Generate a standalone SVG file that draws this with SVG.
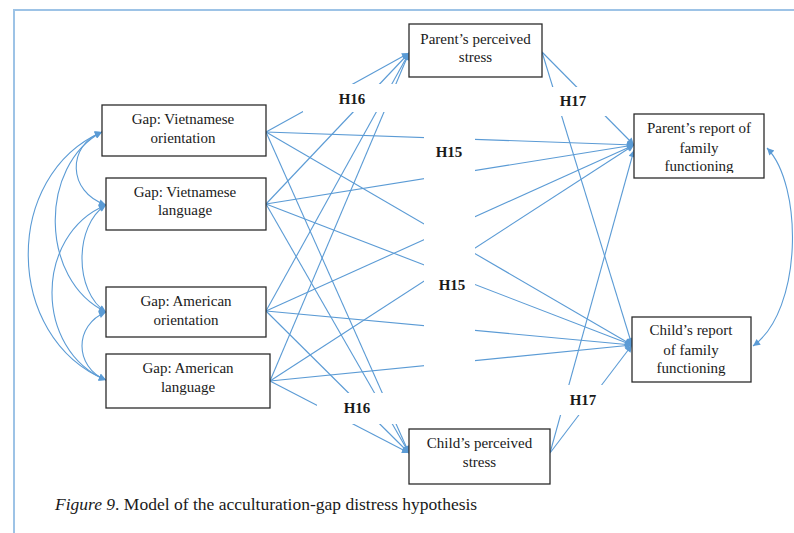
<svg xmlns="http://www.w3.org/2000/svg" width="794" height="533" viewBox="0 0 794 533">
  <style>
    .box { fill: #ffffff; stroke: #2b2b2b; stroke-width: 1.3; }
    .txt { font-family: "Liberation Serif", "Times New Roman", serif; font-size: 15px; fill: #1a1a1a; text-anchor: middle; }
    .lbl { font-family: "Liberation Serif", "Times New Roman", serif; font-size: 15px; font-weight: bold; fill: #1a1a1a; text-anchor: middle; }
    .path { fill: none; stroke: #5B9BD5; stroke-width: 1.1; marker-end: url(#arrow); }
    .cov { fill: none; stroke: #5B9BD5; stroke-width: 1.1; marker-start: url(#arrow); marker-end: url(#arrow); }
    .frame { stroke: #9DC3E6; stroke-width: 2; fill: none; }
    .gap { fill: #ffffff; stroke: none; }
    .cap { font-family: "Liberation Serif", "Times New Roman", serif; font-size: 17.5px; fill: #1a1a1a; }
  </style>
  <defs>
    <marker id="arrow" viewBox="0 0 10 10" refX="10" refY="5" markerWidth="9" markerHeight="7" markerUnits="userSpaceOnUse" orient="auto-start-reverse">
      <path d="M0,0 L10,5 L0,10 z" fill="#5B9BD5"/>
    </marker>
    <clipPath id="clipPR"><rect x="634" y="114" width="130" height="59"/></clipPath>
    <clipPath id="clipCR"><rect x="632" y="317" width="119" height="59"/></clipPath>
  </defs>

  <rect width="794" height="533" fill="#ffffff"/>

  <!-- page frame -->
  <path class="frame" d="M14,533 V10 H794"/>

  <!-- connectors -->
  <g id="connectors">
    <!-- gaps to parent's perceived stress -->
    <line class="path" x1="266" y1="132" x2="409" y2="53"/>
    <line class="path" x1="266" y1="204" x2="409" y2="53"/>
    <line class="path" x1="266" y1="311" x2="409" y2="53"/>
    <line class="path" x1="270" y1="381" x2="409" y2="53"/>
    <!-- gaps to child's perceived stress -->
    <line class="path" x1="266" y1="132" x2="409" y2="453"/>
    <line class="path" x1="266" y1="204" x2="409" y2="453"/>
    <line class="path" x1="266" y1="311" x2="409" y2="453"/>
    <line class="path" x1="270" y1="381" x2="409" y2="453"/>
    <!-- gaps to parent's report -->
    <line class="path" x1="266" y1="132" x2="634" y2="145"/>
    <line class="path" x1="266" y1="204" x2="634" y2="145"/>
    <line class="path" x1="266" y1="311" x2="634" y2="145"/>
    <line class="path" x1="270" y1="381" x2="634" y2="145"/>
    <!-- gaps to child's report -->
    <line class="path" x1="266" y1="132" x2="632" y2="345"/>
    <line class="path" x1="266" y1="204" x2="632" y2="345"/>
    <line class="path" x1="266" y1="311" x2="632" y2="345"/>
    <line class="path" x1="270" y1="381" x2="632" y2="345"/>
    <!-- perceived stress to family functioning -->
    <line class="path" x1="542" y1="52" x2="634" y2="145"/>
    <line class="path" x1="542" y1="52" x2="632" y2="345"/>
    <line class="path" x1="550" y1="453" x2="634" y2="150"/>
    <line class="path" x1="550" y1="453" x2="632" y2="345"/>

    <!-- covariances among the gap measures -->
    <path class="cov" d="M102,132 C67,145 67,192 106,205"/>
    <path class="cov" d="M106,205 C74,225 74,292 106,312"/>
    <path class="cov" d="M106,312 C74,325 74,367 106,380"/>
    <path class="cov" d="M102,132 C39,165 39,280 106,312"/>
    <path class="cov" d="M106,205 C34,235 34,350 106,380"/>
    <path class="cov" d="M102,132 C3,175 3,337 106,380"/>
    <!-- covariance between family functioning reports -->
    <path class="cov" d="M767,148 C803,185 803,310 753,346"/>
  </g>

  <!-- label backdrops interrupting the paths -->
  <g id="label-backdrops">
    <rect class="gap" x="303" y="84" width="102" height="28"/>
    <rect class="gap" x="317" y="393" width="84" height="31"/>
    <rect class="gap" x="424" y="130" width="51" height="242"/>
    <rect class="gap" x="548" y="87" width="62" height="29"/>
    <rect class="gap" x="555" y="385" width="57" height="30"/>
  </g>

  <g id="labels">
    <text class="lbl" x="352" y="104">H16</text>
    <text class="lbl" x="449" y="157">H15</text>
    <text class="lbl" x="452" y="290">H15</text>
    <text class="lbl" x="357" y="413">H16</text>
    <text class="lbl" x="573" y="106">H17</text>
    <text class="lbl" x="583" y="405">H17</text>
  </g>

  <!-- nodes -->
  <g id="gap-vn-orientation">
    <rect class="box" x="102" y="105" width="164" height="51"/>
    <text class="txt" x="183" y="124">Gap: Vietnamese</text>
    <text class="txt" x="183" y="143">orientation</text>
  </g>
  <g id="gap-vn-language">
    <rect class="box" x="106" y="178" width="160" height="52"/>
    <text class="txt" x="185" y="197">Gap: Vietnamese</text>
    <text class="txt" x="185" y="215">language</text>
  </g>
  <g id="gap-am-orientation">
    <rect class="box" x="106" y="287" width="160" height="50"/>
    <text class="txt" x="186" y="306">Gap: American</text>
    <text class="txt" x="186" y="325">orientation</text>
  </g>
  <g id="gap-am-language">
    <rect class="box" x="106" y="354" width="164" height="54"/>
    <text class="txt" x="188" y="373">Gap: American</text>
    <text class="txt" x="188" y="392">language</text>
  </g>
  <g id="parent-stress">
    <rect class="box" x="409" y="24" width="133" height="53"/>
    <text class="txt" x="475.5" y="44">Parent’s perceived</text>
    <text class="txt" x="475.5" y="62">stress</text>
  </g>
  <g id="child-stress">
    <rect class="box" x="409" y="429" width="141" height="55"/>
    <text class="txt" x="479.5" y="448">Child’s perceived</text>
    <text class="txt" x="479.5" y="467">stress</text>
  </g>
  <g id="parent-report">
    <rect class="box" x="634" y="114" width="130" height="64"/>
    <g clip-path="url(#clipPR)">
      <text class="txt" x="699" y="133">Parent’s report of</text>
      <text class="txt" x="699" y="153">family</text>
      <text class="txt" x="699" y="171">functioning</text>
    </g>
  </g>
  <g id="child-report">
    <rect class="box" x="632" y="317" width="119" height="65"/>
    <g clip-path="url(#clipCR)">
      <text class="txt" x="691" y="335">Child’s report</text>
      <text class="txt" x="691" y="355">of family</text>
      <text class="txt" x="691" y="373">functioning</text>
    </g>
  </g>

  <!-- caption -->
  <text class="cap" x="55" y="510"><tspan font-style="italic">Figure 9</tspan>. Model of the acculturation-gap distress hypothesis</text>
</svg>
